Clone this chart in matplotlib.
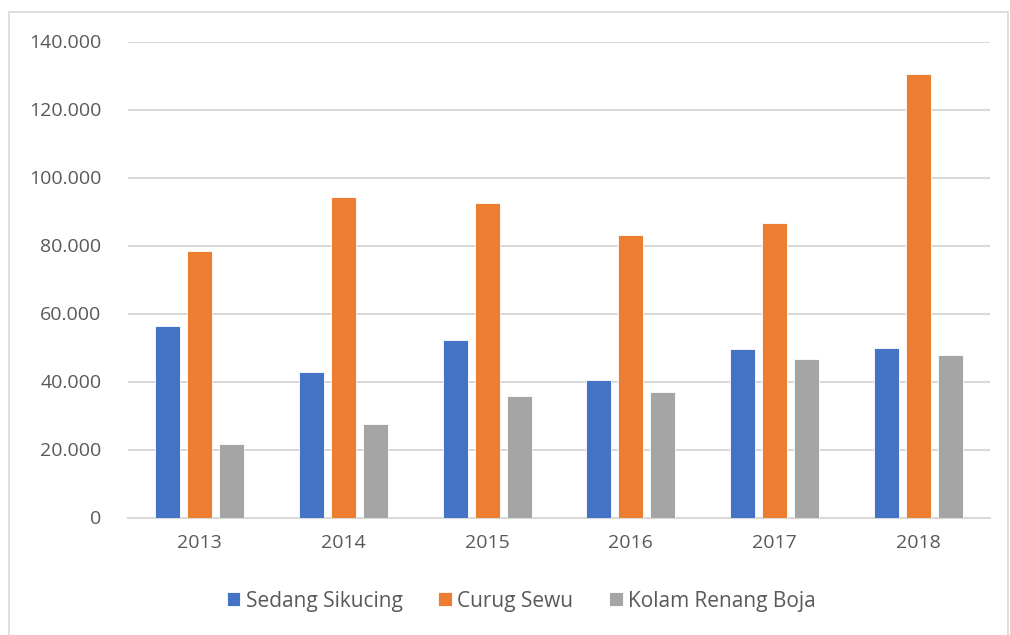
import matplotlib.pyplot as plt
import matplotlib.patches as patches
import numpy as np

years = ["2013", "2014", "2015", "2016", "2017", "2018"]
series_names = ["Sedang Sikucing", "Curug Sewu", "Kolam Renang Boja"]
sedang = [56400, 42900, 52100, 40300, 49500, 50000]
curug = [78300, 94200, 92400, 83000, 86500, 130300]
kolam = [21700, 27400, 35800, 36800, 46500, 47800]
colors = ["#4472C4", "#ED7D31", "#A5A5A5"]
yticks = [0, 20000, 40000, 60000, 80000, 100000, 120000, 140000]

plt.rcParams["font.family"] = ["Open Sans", "DejaVu Sans"]

W, H = 1010, 635
fig = plt.figure(figsize=(W / 100, H / 100), dpi=100)
ax = fig.add_axes([128 / W, 1 - 517.5 / H, (990 - 128) / W, (517.5 - 41.5) / H])

# chart frame
fig.patches.append(patches.Rectangle(
    (9 / W, -0.01), (1008 - 9) / W, 1 - 12 / H + 0.01,
    transform=fig.transFigure, linewidth=1.2, edgecolor="#d9d9d9", facecolor="none"
))

x = np.arange(len(years))
width = 0.174
pitch = 0.2227
for i, (vals, name) in enumerate(zip([sedang, curug, kolam], series_names)):
    ax.bar(x + (i - 1) * pitch, vals, width, color=colors[i], label=name,
           edgecolor="white", linewidth=0.6, zorder=3)

ax.set_xlim(-0.5, len(years) - 0.5)
ax.set_ylim(0, 140000)
ax.set_yticks(yticks)
ax.set_yticklabels([f"{v:,}".replace(",", ".") for v in yticks])
ax.set_xticks(x)
ax.set_xticklabels(years)
ax.tick_params(axis="both", length=0, labelsize=14, colors="#595959")
ax.tick_params(axis="y", pad=19)
ax.tick_params(axis="x", pad=12)
ax.grid(axis="y", color="#d9d9d9", linewidth=1.5, zorder=0)
for s in ["top", "right", "left"]:
    ax.spines[s].set_visible(False)
ax.spines["bottom"].set_color("#d9d9d9")
ax.spines["bottom"].set_linewidth(1.5)

fig.legend(loc="center", bbox_to_anchor=(521 / W, 1 - 601 / H), ncol=3, frameon=False,
           fontsize=15, handlelength=0.67, handleheight=0.67, handletextpad=0.25,
           columnspacing=1.7, labelcolor="#595959")

fig.savefig("out.png", dpi=100)
